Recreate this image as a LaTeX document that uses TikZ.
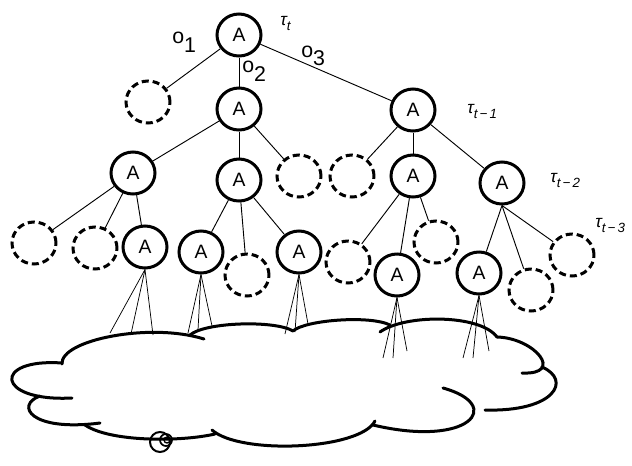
\documentclass[tikz,border=0pt]{standalone}
\usepackage{fontspec}
\setmainfont{Liberation Sans}
\usetikzlibrary{shapes.geometric}
\begin{document}
\begin{tikzpicture}[x=0.75pt,y=-0.75pt,
  anode/.style={ellipse, draw, line width=2.25pt, minimum width=33pt, minimum height=31.5pt, inner sep=0pt, font=\fontsize{14.5}{14}\selectfont},
  dnode/.style={ellipse, draw, line width=2.25pt, dash pattern=on 5.25pt off 3pt, minimum width=33pt, minimum height=31.5pt, inner sep=0pt},
  conn/.style={line width=0.7pt},
  fan/.style={line width=0.55pt},
  cloudline/.style={line width=2.25pt, line cap=round},
  taulab/.style={anchor=base west, inner sep=0pt, font=\fontsize{13}{13}\selectfont\itshape},
  olab/.style={anchor=base west, inner sep=0pt, font=\fontsize{16}{16}\selectfont}]
\useasboundingbox (0,0) rectangle (632,465);

% nodes
\node[anode] (r) at (239,35) {A};
\node[dnode] (d1) at (148,102) {};
\node[anode] (a1) at (239,109) {A};
\node[anode] (a2) at (413,110) {A};
\node[anode] (a11) at (133,173) {A};
\node[anode] (a12) at (239,180) {A};
\node[dnode] (d12) at (299,176) {};
\node[dnode] (d21) at (352,176) {};
\node[anode] (a21) at (413,176) {A};
\node[anode] (a22) at (502,183) {A};
\node[dnode] (d111) at (34,243) {};
\node[dnode] (d112) at (95,248) {};
\node[anode] (a113) at (145,247) {A};
\node[anode] (a121) at (201,252) {A};
\node[dnode] (d122) at (247,275) {};
\node[anode] (a123) at (299,252) {A};
\node[dnode] (d211) at (348,262) {};
\node[anode] (a212) at (397,275) {A};
\node[dnode] (d213) at (436,242) {};
\node[anode] (a221) at (479,273) {A};
\node[dnode] (d222) at (531,290) {};
\node[dnode] (d223) at (572,255) {};

% labels
\node[taulab] (tt) at (280,25) {τ\raisebox{-3.75pt}{\fontsize{10}{10}\selectfont t}};
\node[taulab] (tt1) at (467,113) {τ\raisebox{-3.75pt}{\fontsize{10}{10}\selectfont t\,−\,1}};
\node[taulab] (tt2) at (550,182) {τ\raisebox{-3.75pt}{\fontsize{10}{10}\selectfont t\,−\,2}};
\node[taulab] (tt3) at (595,227) {τ\raisebox{-3.75pt}{\fontsize{10}{10}\selectfont t\,−\,3}};
\node[olab] (o1) at (172,43) {o\raisebox{-6.75pt}{1}};
\node[olab] (o2) at (242,72) {o\raisebox{-7pt}{2}};
\node[olab] (o3) at (301,57) {o\raisebox{-6.5pt}{3}};

% connectors
\draw[conn] (r) -- (d1);
\draw[conn] (r) -- (a1);
\draw[conn] (r) -- (a2);
\draw[conn] (a1) -- (a11);
\draw[conn] (a1) -- (a12);
\draw[conn] (a1) -- (d12);
\draw[conn] (a2) -- (d21);
\draw[conn] (a2) -- (a21);
\draw[conn] (a2) -- (a22);
\draw[conn] (a11) -- (d111);
\draw[conn] (a11) -- (d112);
\draw[conn] (a11) -- (a113);
\draw[conn] (a12) -- (a121);
\draw[conn] (a12) -- (d122);
\draw[conn] (a12) -- (a123);
\draw[conn] (a21) -- (d211);
\draw[conn] (a21) -- (a212);
\draw[conn] (a21) -- (d213);
\draw[conn] (a22.south) -- (a221);
\draw[conn] (a22.south) -- (d222);
\draw[conn] (a22.south) -- (d223);

% fans
\coordinate (f1a) at (110,333); \coordinate (f1b) at (131,334); \coordinate (f1c) at (153,335);
\coordinate (f2a) at (188,333); \coordinate (f2b) at (198,330); \coordinate (f2c) at (212,326);
\coordinate (f3a) at (285,334); \coordinate (f3b) at (295,332); \coordinate (f3c) at (308,324);
\coordinate (f4a) at (383,358); \coordinate (f4b) at (393,358); \coordinate (f4c) at (407,351);
\coordinate (f5a) at (463,358); \coordinate (f5b) at (473,358); \coordinate (f5c) at (489,351);
\foreach \n/\f in {a113/f1,a121/f2,a123/f3,a212/f4,a221/f5}{
  \draw[fan] (\n.south) -- (\f a);
  \draw[fan] (\n.south) -- (\f b);
  \draw[fan] (\n.south) -- (\f c);
}

% cloud
\draw[cloudline] (62,364) .. controls (60,340) and (150,322) .. (204,339);
\draw[cloudline] (190,335) .. controls (205,322) and (275,320) .. (293,331);
\draw[cloudline] (293,331) .. controls (305,320) and (370,315) .. (390,325);
\draw[cloudline] (380,332) .. controls (405,314) and (480,314) .. (497,337);
\draw[cloudline] (497,337) .. controls (535,338) and (565,375) .. (522,373);
\draw[cloudline] (542,367) .. controls (572,380) and (555,412) .. (485,410);
\draw[cloudline] (443,388) .. controls (505,405) and (470,448) .. (373,425);
\draw[cloudline] (375,421) .. controls (360,450) and (240,455) .. (212,430);
\draw[cloudline] (215,434) .. controls (180,442) and (110,442) .. (85,425);
\draw[cloudline] (40,396) .. controls (15,405) and (30,432) .. (100,423);
\draw[cloudline] (62,363) .. controls (-8,358) and (-5,402) .. (72,398);

% small spiral
\draw[line width=1.5pt] (160,442) circle[radius=10];
\draw[line width=1.3pt] (166,440) circle[radius=6];
\draw[line width=1pt] (167,440) circle[radius=3];
\end{tikzpicture}
\end{document}
